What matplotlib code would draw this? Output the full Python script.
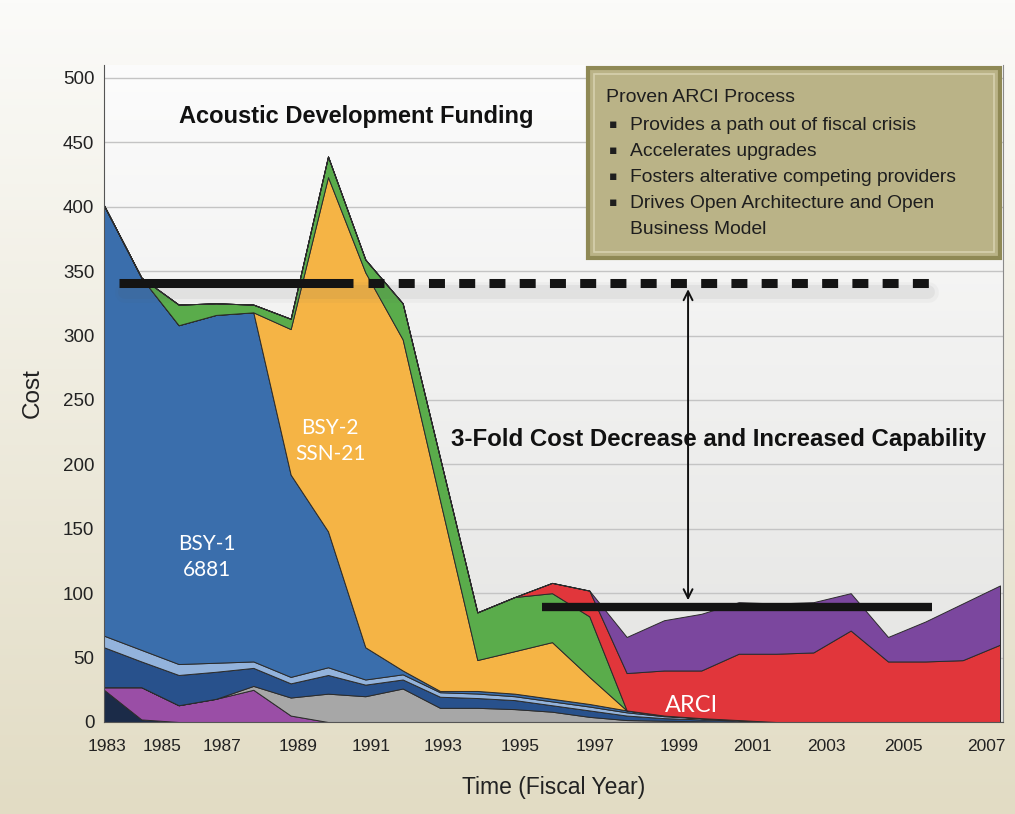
import numpy as np
import matplotlib
matplotlib.use("Agg")
import matplotlib.pyplot as plt
from matplotlib.patches import Rectangle

plt.rcParams['font.family'] = ['Liberation Sans', 'DejaVu Sans']

# --- data ---
years = list(range(1983, 2008))

# stacked layers, bottom to top
navy = [25, 2, 0, 0, 0, 0, 0, 0, 0, 0, 0, 0, 0, 0, 0, 0, 0, 0, 0, 0, 0, 0, 0, 0, 0]
purple_old = [2, 25, 13, 18, 25, 5, 0, 0, 0, 0, 0, 0, 0, 0, 0, 0, 0, 0, 0, 0, 0, 0, 0, 0, 0]
gray = [0, 0, 0, 0, 3, 14, 22, 20, 26, 11, 11, 10, 8, 4, 1.5, 1, 0.5, 0, 0, 0, 0, 0, 0, 0, 0]
dark_blue = [31, 20, 23.5, 21, 14, 11, 14.5, 9, 7, 8.6, 7.6, 7, 5, 5, 3.5, 2, 1.5, 1, 0, 0, 0, 0, 0, 0, 0]
light_blue = [9, 9, 8.5, 7, 5, 5, 6, 4, 4, 3.5, 3.5, 3, 3, 3, 2.5, 1.5, 1, 0.5, 0, 0, 0, 0, 0, 0, 0]
bsy1 = [334, 289, 263, 270, 271, 157, 105.5, 25, 3, 1, 2, 2, 2, 2, 1.5, 0.5, 0, 0, 0, 0, 0, 0, 0, 0, 0]
bsy2 = [0, 0, 0, 0, 0, 113, 275, 291, 257, 148, 24, 33, 44, 21, 0, 0, 0, 0, 0, 0, 0, 0, 0, 0, 0]
green = [0, 0, 16, 9, 6, 8, 16, 10, 28, 33, 37, 42, 38, 47, 0, 0, 0, 0, 0, 0, 0, 0, 0, 0, 0]
arci = [0, 0, 0, 0, 0, 0, 0, 0, 0, 0, 0, 0, 8, 20, 29, 35, 37, 51.5, 53, 54, 71, 47, 47, 48, 60]
purple_new = [0, 0, 0, 0, 0, 0, 0, 0, 0, 0, 0, 0, 0, 0, 28, 39, 44, 40, 39, 39, 29, 19, 31, 44, 46]

layer_colors = ['#1b2b48', '#9a4ea6', '#a7a7a7', '#28518c', '#93b3dc',
                '#3a6eac', '#f5b445', '#5aac4b', '#e1363b', '#7b479e']

tick_labels = ['1983', '1985', '1987', '1989', '1991', '1993', '1995',
               '1997', '1999', '2001', '2003', '2005', '2007']
y_ticks = list(range(0, 501, 50))

# funding levels before / after ARCI
old_level = 341
new_level = 89.5

box_lines = ['Proven ARCI Process',
             'Provides a path out of fiscal crisis',
             'Accelerates upgrades',
             'Fosters alterative competing providers',
             'Drives Open Architecture and Open',
             'Business Model']

# --- figure ---
W, H = 1015, 814
fig = plt.figure(figsize=(W / 100, H / 100), dpi=100)

# figure background gradient (white -> beige)
bg = fig.add_axes([0, 0, 1, 1], zorder=-10)
grad = np.linspace(0, 1, 256)[:, None]
top_c = np.array([251, 251, 249]) / 255
bot_c = np.array([226, 220, 196]) / 255
img = top_c[None, None, :] * (1 - grad[:, :, None]) + bot_c[None, None, :] * grad[:, :, None]
bg.imshow(img, aspect='auto', extent=[0, 1, 0, 1])
bg.axis('off')

ax = fig.add_axes([104 / W, 1 - 722 / H, (1003 - 104) / W, (722 - 65) / H])

# plot area gradient
ptop = np.array([252, 252, 252]) / 255
pbot = np.array([228, 228, 226]) / 255
pimg = ptop[None, None, :] * (1 - grad[:, :, None]) + pbot[None, None, :] * grad[:, :, None]
ax.imshow(pimg, aspect='auto', extent=[0, 1, 0, 1], transform=ax.transAxes, zorder=0)

ax.stackplot(years, navy, purple_old, gray, dark_blue, light_blue, bsy1, bsy2,
             green, arci, purple_new, colors=layer_colors,
             edgecolor='#2b2b2b', linewidth=0.7, zorder=2)

ax.set_xlim(1983, 2007.08)
ax.set_ylim(0, 510)
ax.set_yticks(y_ticks)
ax.yaxis.grid(True, color='#c4c4c4', linewidth=1)
ax.set_axisbelow(True)


def px_to_year(px):
    return 1983 + (px - 104) / 37.33


tick_px = [107, 162, 222, 298, 371, 443, 520, 595, 679, 752, 826, 903, 986]
ax.set_xticks([px_to_year(p) for p in tick_px])
ax.set_xticklabels(tick_labels)
ax.tick_params(axis='x', length=0, labelsize=12.5, pad=12, colors='#222222')
ax.tick_params(axis='y', length=0, labelsize=13.5, pad=7, colors='#222222')

ax.spines['top'].set_visible(False)
ax.spines['left'].set_color('#555555')
ax.spines['bottom'].set_color('#555555')
ax.spines['right'].set_color('#8a8a8a')

ax.set_ylabel('Cost', fontsize=17.5, color='#222222', labelpad=14)
ax.set_xlabel('Time (Fiscal Year)', fontsize=16.5, color='#222222', labelpad=16)

# soft shadows under the level bars
for lw, a in [(15, 0.04), (10, 0.07)]:
    ax.plot([px_to_year(125), px_to_year(928)], [old_level - 7, old_level - 7],
            color='#555555', lw=lw, alpha=a, solid_capstyle='round', zorder=4)

# cost level bars
ax.plot([px_to_year(119), px_to_year(353)], [old_level, old_level], color='#141414',
        lw=6.5, solid_capstyle='butt', zorder=5)
dash_line, = ax.plot([px_to_year(368), px_to_year(930)], [old_level, old_level],
                     color='#141414', lw=6.5, solid_capstyle='butt',
                     dash_capstyle='butt', zorder=5)
dash_line.set_dashes((1.77, 1.58))
ax.plot([px_to_year(542), px_to_year(932)], [new_level, new_level], color='#141414',
        lw=6.0, solid_capstyle='butt', zorder=5)

ax.annotate('', xy=(px_to_year(688), new_level + 5), xytext=(px_to_year(688), old_level - 5),
            arrowprops=dict(arrowstyle='<->', lw=1.4, color='#111111',
                            mutation_scale=16, shrinkA=0, shrinkB=0), zorder=6)

# annotations
ax.text(px_to_year(356), 470, 'Acoustic Development Funding', fontsize=17,
        fontweight='bold', ha='center', va='center', color='#111111', zorder=6)
ax.text(px_to_year(718), 219, '3-Fold Cost Decrease and Increased Capability',
        fontsize=17.3, fontweight='bold', ha='center', va='center', color='#111111', zorder=6)

ax.text(px_to_year(207), 128, 'BSY-1\n6881', fontsize=15, color='white', ha='center',
        va='center', family=['Lato', 'DejaVu Sans'], linespacing=1.35, zorder=6)
ax.text(px_to_year(330), 218, 'BSY-2\nSSN-21', fontsize=15, color='white', ha='center',
        va='center', family=['Lato', 'DejaVu Sans'], linespacing=1.35, zorder=6)
ax.text(px_to_year(691), 13, 'ARCI', fontsize=17, color='white', ha='center',
        va='center', family=['Lato', 'DejaVu Sans'], zorder=6)

# info box
bx0, by0, bx1, by1 = 588, 68, 1000, 258
fig.patches.append(Rectangle((bx0 / W, 1 - by1 / H), (bx1 - bx0) / W, (by1 - by0) / H,
                             transform=fig.transFigure, facecolor='#bab387',
                             edgecolor='#8f8955', linewidth=3, zorder=10))
fig.patches.append(Rectangle(((bx0 + 6) / W, 1 - (by1 - 6) / H), (bx1 - bx0 - 12) / W,
                             (by1 - by0 - 12) / H, transform=fig.transFigure,
                             facecolor='none', edgecolor='#d6d1ae', linewidth=1.2, zorder=11))

line_y = [97, 125, 151, 177, 203, 229]
for i, (txt, yy) in enumerate(zip(box_lines, line_y)):
    if i == 0:
        fig.text(606 / W, 1 - yy / H, txt, fontsize=14, color='#1e1e1e',
                 ha='left', va='center', zorder=12)
    else:
        if i != 5:
            fig.text(613 / W, 1 - yy / H, '▪', fontsize=9, color='#1e1e1e',
                     ha='center', va='center', family=['DejaVu Sans'], zorder=12)
        fig.text(630 / W, 1 - yy / H, txt, fontsize=13.9, color='#1e1e1e',
                 ha='left', va='center', zorder=12)

fig.savefig('out.png', dpi=100)
